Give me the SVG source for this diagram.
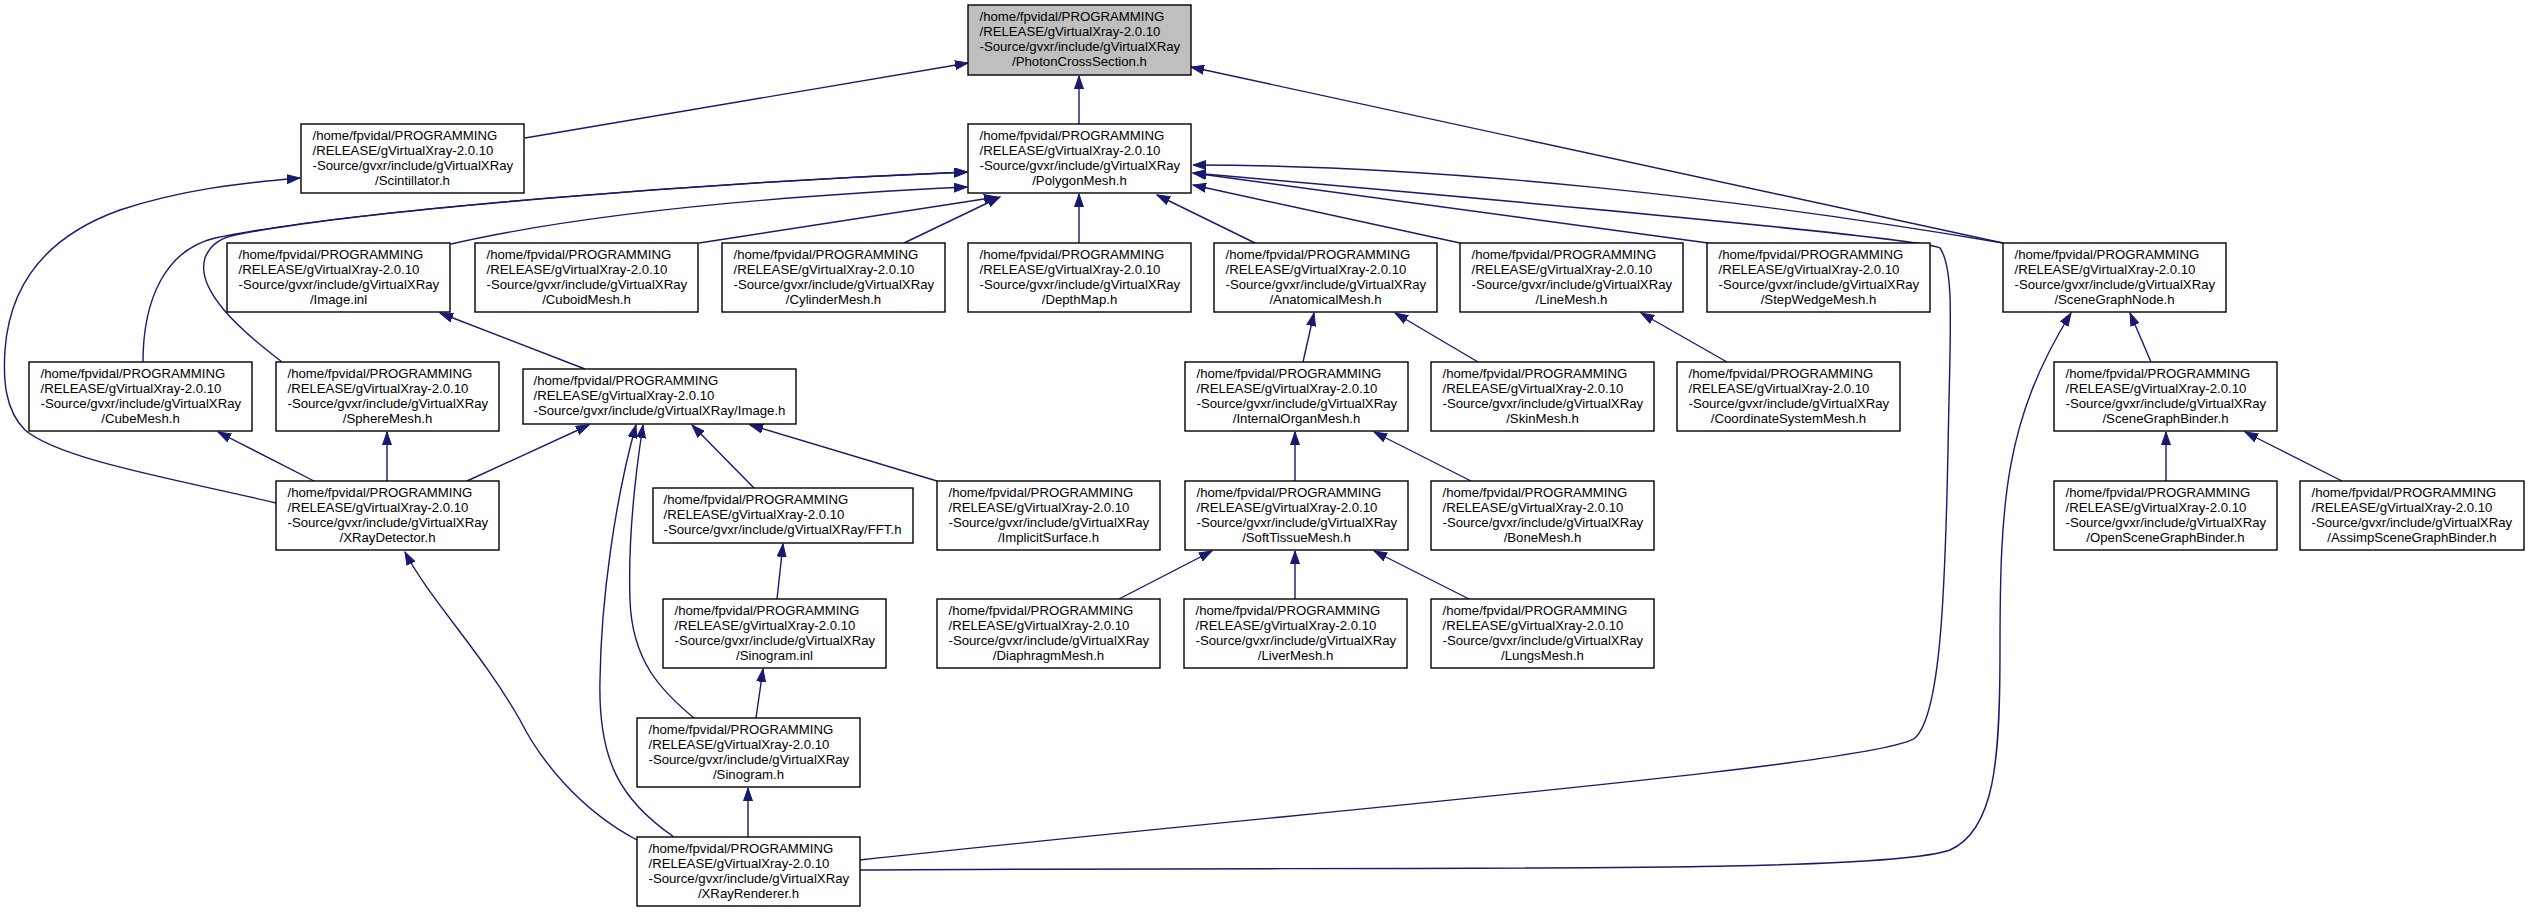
<svg xmlns="http://www.w3.org/2000/svg" width="2529" height="912" viewBox="0 0 2529 912">
<style>
.n rect{fill:#fff;stroke:#000;stroke-width:1.4}
.n.hl rect{fill:#bfbfbf}
.n text{font-family:"Liberation Sans",Arial,Helvetica,sans-serif;font-size:13.2px;fill:#000}
.n text.c{text-anchor:middle}
.e path{fill:none;stroke:#191970;stroke-width:1.4;marker-end:url(#a)}
</style>
<defs>
<marker id="a" markerWidth="14" markerHeight="10" refX="13" refY="5" orient="auto" markerUnits="userSpaceOnUse">
<path d="M0,0.5 L13,5 L0,9.5 z" fill="#191970" stroke="#191970" stroke-width="1"/>
</marker>
</defs>
<rect width="2529" height="912" fill="#fff"/>
<g class="e" id="edges">
<path d="M525,138 L968,63"/>
<path d="M1079,124 L1079,76"/>
<path d="M2003,243 L1191,67"/>
<path d="M276,503 C180,480 60,460 25,430 C5,410 3,380 5,350 C10,280 50,235 120,210 C180,190 240,183 300,178"/>
<path d="M451,244 C600,210 800,195 967,187"/>
<path d="M143,362 C143,300 165,250 215,238 C350,210 700,183 967,172"/>
<path d="M282,362 C240,330 195,290 205,258 C210,245 220,238 235,235 C360,210 700,183 967,172"/>
<path d="M699,243 L997,197"/>
<path d="M904,243 L1000,197"/>
<path d="M1079,243 L1079,194"/>
<path d="M1255,243 L1157,195"/>
<path d="M1460,243 L1193,185"/>
<path d="M1708,243 L1193,173"/>
<path d="M2003,243 C1750,200 1450,165 1193,165"/>
<path d="M860,860 C1300,812 1880,765 1915,738 C1940,715 1945,600 1948,450 C1950,330 1955,270 1940,248 C1925,238 1500,200 1193,173"/>
<path d="M585,369 L440,313"/>
<path d="M467,481 L589,425"/>
<path d="M754,488 L692,425"/>
<path d="M937,481 L750,425"/>
<path d="M694,718 C660,690 632,660 630,600 C628,540 636,470 643,425"/>
<path d="M674,837 C620,800 598,760 600,680 C601,600 615,500 636,425"/>
<path d="M777,599 L783,544"/>
<path d="M756,718 L763,669"/>
<path d="M748,837 L748,788"/>
<path d="M637,840 C580,810 540,760 520,720 C480,650 430,600 405,552"/>
<path d="M314,481 L218,432"/>
<path d="M387,481 L387,432"/>
<path d="M1303,362 L1314,313"/>
<path d="M1478,362 L1395,313"/>
<path d="M1727,362 L1641,313"/>
<path d="M2151,362 L2130,313"/>
<path d="M860,870 C1400,866 1880,875 1950,850 C1995,830 2000,760 2000,650 C2000,500 2005,420 2071,313"/>
<path d="M2166,481 L2166,432"/>
<path d="M2342,481 L2245,432"/>
<path d="M1295,481 L1295,432"/>
<path d="M1471,481 L1374,432"/>
<path d="M1119,599 L1212,551"/>
<path d="M1295,599 L1295,551"/>
<path d="M1469,599 L1374,551"/>
</g>
<g class="n hl" id="PhotonCrossSection"><rect x="968" y="5" width="223" height="70"/><text x="979.5" y="21">/home/fpvidal/PROGRAMMING</text><text x="979.5" y="36">/RELEASE/gVirtualXray-2.0.10</text><text x="979.5" y="51">-Source/gvxr/include/gVirtualXRay</text><text class="c" x="1079.5" y="66">/PhotonCrossSection.h</text></g>
<g class="n" id="Scintillator"><rect x="301" y="124" width="223" height="69"/><text x="312.5" y="139.5">/home/fpvidal/PROGRAMMING</text><text x="312.5" y="154.5">/RELEASE/gVirtualXray-2.0.10</text><text x="312.5" y="169.5">-Source/gvxr/include/gVirtualXRay</text><text class="c" x="412.5" y="184.5">/Scintillator.h</text></g>
<g class="n" id="PolygonMesh"><rect x="968" y="124" width="223" height="69"/><text x="979.5" y="139.5">/home/fpvidal/PROGRAMMING</text><text x="979.5" y="154.5">/RELEASE/gVirtualXray-2.0.10</text><text x="979.5" y="169.5">-Source/gvxr/include/gVirtualXRay</text><text class="c" x="1079.5" y="184.5">/PolygonMesh.h</text></g>
<g class="n" id="ImageInl"><rect x="227" y="243" width="223" height="69"/><text x="238.5" y="258.5">/home/fpvidal/PROGRAMMING</text><text x="238.5" y="273.5">/RELEASE/gVirtualXray-2.0.10</text><text x="238.5" y="288.5">-Source/gvxr/include/gVirtualXRay</text><text class="c" x="338.5" y="303.5">/Image.inl</text></g>
<g class="n" id="CuboidMesh"><rect x="475" y="243" width="223" height="69"/><text x="486.5" y="258.5">/home/fpvidal/PROGRAMMING</text><text x="486.5" y="273.5">/RELEASE/gVirtualXray-2.0.10</text><text x="486.5" y="288.5">-Source/gvxr/include/gVirtualXRay</text><text class="c" x="586.5" y="303.5">/CuboidMesh.h</text></g>
<g class="n" id="CylinderMesh"><rect x="722" y="243" width="223" height="69"/><text x="733.5" y="258.5">/home/fpvidal/PROGRAMMING</text><text x="733.5" y="273.5">/RELEASE/gVirtualXray-2.0.10</text><text x="733.5" y="288.5">-Source/gvxr/include/gVirtualXRay</text><text class="c" x="833.5" y="303.5">/CylinderMesh.h</text></g>
<g class="n" id="DepthMap"><rect x="968" y="243" width="223" height="69"/><text x="979.5" y="258.5">/home/fpvidal/PROGRAMMING</text><text x="979.5" y="273.5">/RELEASE/gVirtualXray-2.0.10</text><text x="979.5" y="288.5">-Source/gvxr/include/gVirtualXRay</text><text class="c" x="1079.5" y="303.5">/DepthMap.h</text></g>
<g class="n" id="AnatomicalMesh"><rect x="1214" y="243" width="223" height="69"/><text x="1225.5" y="258.5">/home/fpvidal/PROGRAMMING</text><text x="1225.5" y="273.5">/RELEASE/gVirtualXray-2.0.10</text><text x="1225.5" y="288.5">-Source/gvxr/include/gVirtualXRay</text><text class="c" x="1325.5" y="303.5">/AnatomicalMesh.h</text></g>
<g class="n" id="LineMesh"><rect x="1460" y="243" width="223" height="69"/><text x="1471.5" y="258.5">/home/fpvidal/PROGRAMMING</text><text x="1471.5" y="273.5">/RELEASE/gVirtualXray-2.0.10</text><text x="1471.5" y="288.5">-Source/gvxr/include/gVirtualXRay</text><text class="c" x="1571.5" y="303.5">/LineMesh.h</text></g>
<g class="n" id="StepWedgeMesh"><rect x="1707" y="243" width="223" height="69"/><text x="1718.5" y="258.5">/home/fpvidal/PROGRAMMING</text><text x="1718.5" y="273.5">/RELEASE/gVirtualXray-2.0.10</text><text x="1718.5" y="288.5">-Source/gvxr/include/gVirtualXRay</text><text class="c" x="1818.5" y="303.5">/StepWedgeMesh.h</text></g>
<g class="n" id="SceneGraphNode"><rect x="2003" y="243" width="223" height="69"/><text x="2014.5" y="258.5">/home/fpvidal/PROGRAMMING</text><text x="2014.5" y="273.5">/RELEASE/gVirtualXray-2.0.10</text><text x="2014.5" y="288.5">-Source/gvxr/include/gVirtualXRay</text><text class="c" x="2114.5" y="303.5">/SceneGraphNode.h</text></g>
<g class="n" id="CubeMesh"><rect x="29" y="362" width="223" height="69"/><text x="40.5" y="377.5">/home/fpvidal/PROGRAMMING</text><text x="40.5" y="392.5">/RELEASE/gVirtualXray-2.0.10</text><text x="40.5" y="407.5">-Source/gvxr/include/gVirtualXRay</text><text class="c" x="140.5" y="422.5">/CubeMesh.h</text></g>
<g class="n" id="SphereMesh"><rect x="276" y="362" width="223" height="69"/><text x="287.5" y="377.5">/home/fpvidal/PROGRAMMING</text><text x="287.5" y="392.5">/RELEASE/gVirtualXray-2.0.10</text><text x="287.5" y="407.5">-Source/gvxr/include/gVirtualXRay</text><text class="c" x="387.5" y="422.5">/SphereMesh.h</text></g>
<g class="n" id="ImageH"><rect x="523" y="369" width="273" height="55"/><text x="533.5" y="385">/home/fpvidal/PROGRAMMING</text><text x="533.5" y="400">/RELEASE/gVirtualXray-2.0.10</text><text x="533.5" y="415">-Source/gvxr/include/gVirtualXRay/Image.h</text></g>
<g class="n" id="InternalOrganMesh"><rect x="1185" y="362" width="223" height="69"/><text x="1196.5" y="377.5">/home/fpvidal/PROGRAMMING</text><text x="1196.5" y="392.5">/RELEASE/gVirtualXray-2.0.10</text><text x="1196.5" y="407.5">-Source/gvxr/include/gVirtualXRay</text><text class="c" x="1296.5" y="422.5">/InternalOrganMesh.h</text></g>
<g class="n" id="SkinMesh"><rect x="1431" y="362" width="223" height="69"/><text x="1442.5" y="377.5">/home/fpvidal/PROGRAMMING</text><text x="1442.5" y="392.5">/RELEASE/gVirtualXray-2.0.10</text><text x="1442.5" y="407.5">-Source/gvxr/include/gVirtualXRay</text><text class="c" x="1542.5" y="422.5">/SkinMesh.h</text></g>
<g class="n" id="CoordinateSystemMesh"><rect x="1677" y="362" width="223" height="69"/><text x="1688.5" y="377.5">/home/fpvidal/PROGRAMMING</text><text x="1688.5" y="392.5">/RELEASE/gVirtualXray-2.0.10</text><text x="1688.5" y="407.5">-Source/gvxr/include/gVirtualXRay</text><text class="c" x="1788.5" y="422.5">/CoordinateSystemMesh.h</text></g>
<g class="n" id="SceneGraphBinder"><rect x="2054" y="362" width="223" height="69"/><text x="2065.5" y="377.5">/home/fpvidal/PROGRAMMING</text><text x="2065.5" y="392.5">/RELEASE/gVirtualXray-2.0.10</text><text x="2065.5" y="407.5">-Source/gvxr/include/gVirtualXRay</text><text class="c" x="2165.5" y="422.5">/SceneGraphBinder.h</text></g>
<g class="n" id="XRayDetector"><rect x="276" y="481" width="223" height="69"/><text x="287.5" y="496.5">/home/fpvidal/PROGRAMMING</text><text x="287.5" y="511.5">/RELEASE/gVirtualXray-2.0.10</text><text x="287.5" y="526.5">-Source/gvxr/include/gVirtualXRay</text><text class="c" x="387.5" y="541.5">/XRayDetector.h</text></g>
<g class="n" id="FFT"><rect x="653" y="488" width="260" height="55"/><text x="663.5" y="504">/home/fpvidal/PROGRAMMING</text><text x="663.5" y="519">/RELEASE/gVirtualXray-2.0.10</text><text x="663.5" y="534">-Source/gvxr/include/gVirtualXRay/FFT.h</text></g>
<g class="n" id="ImplicitSurface"><rect x="937" y="481" width="223" height="69"/><text x="948.5" y="496.5">/home/fpvidal/PROGRAMMING</text><text x="948.5" y="511.5">/RELEASE/gVirtualXray-2.0.10</text><text x="948.5" y="526.5">-Source/gvxr/include/gVirtualXRay</text><text class="c" x="1048.5" y="541.5">/ImplicitSurface.h</text></g>
<g class="n" id="SoftTissueMesh"><rect x="1185" y="481" width="223" height="69"/><text x="1196.5" y="496.5">/home/fpvidal/PROGRAMMING</text><text x="1196.5" y="511.5">/RELEASE/gVirtualXray-2.0.10</text><text x="1196.5" y="526.5">-Source/gvxr/include/gVirtualXRay</text><text class="c" x="1296.5" y="541.5">/SoftTissueMesh.h</text></g>
<g class="n" id="BoneMesh"><rect x="1431" y="481" width="223" height="69"/><text x="1442.5" y="496.5">/home/fpvidal/PROGRAMMING</text><text x="1442.5" y="511.5">/RELEASE/gVirtualXray-2.0.10</text><text x="1442.5" y="526.5">-Source/gvxr/include/gVirtualXRay</text><text class="c" x="1542.5" y="541.5">/BoneMesh.h</text></g>
<g class="n" id="OpenSceneGraphBinder"><rect x="2054" y="481" width="223" height="69"/><text x="2065.5" y="496.5">/home/fpvidal/PROGRAMMING</text><text x="2065.5" y="511.5">/RELEASE/gVirtualXray-2.0.10</text><text x="2065.5" y="526.5">-Source/gvxr/include/gVirtualXRay</text><text class="c" x="2165.5" y="541.5">/OpenSceneGraphBinder.h</text></g>
<g class="n" id="AssimpSceneGraphBinder"><rect x="2300" y="481" width="224" height="69"/><text x="2311.5" y="496.5">/home/fpvidal/PROGRAMMING</text><text x="2311.5" y="511.5">/RELEASE/gVirtualXray-2.0.10</text><text x="2311.5" y="526.5">-Source/gvxr/include/gVirtualXRay</text><text class="c" x="2412" y="541.5">/AssimpSceneGraphBinder.h</text></g>
<g class="n" id="SinogramInl"><rect x="663" y="599" width="223" height="69"/><text x="674.5" y="614.5">/home/fpvidal/PROGRAMMING</text><text x="674.5" y="629.5">/RELEASE/gVirtualXray-2.0.10</text><text x="674.5" y="644.5">-Source/gvxr/include/gVirtualXRay</text><text class="c" x="774.5" y="659.5">/Sinogram.inl</text></g>
<g class="n" id="DiaphragmMesh"><rect x="937" y="599" width="223" height="69"/><text x="948.5" y="614.5">/home/fpvidal/PROGRAMMING</text><text x="948.5" y="629.5">/RELEASE/gVirtualXray-2.0.10</text><text x="948.5" y="644.5">-Source/gvxr/include/gVirtualXRay</text><text class="c" x="1048.5" y="659.5">/DiaphragmMesh.h</text></g>
<g class="n" id="LiverMesh"><rect x="1184" y="599" width="223" height="69"/><text x="1195.5" y="614.5">/home/fpvidal/PROGRAMMING</text><text x="1195.5" y="629.5">/RELEASE/gVirtualXray-2.0.10</text><text x="1195.5" y="644.5">-Source/gvxr/include/gVirtualXRay</text><text class="c" x="1295.5" y="659.5">/LiverMesh.h</text></g>
<g class="n" id="LungsMesh"><rect x="1431" y="599" width="223" height="69"/><text x="1442.5" y="614.5">/home/fpvidal/PROGRAMMING</text><text x="1442.5" y="629.5">/RELEASE/gVirtualXray-2.0.10</text><text x="1442.5" y="644.5">-Source/gvxr/include/gVirtualXRay</text><text class="c" x="1542.5" y="659.5">/LungsMesh.h</text></g>
<g class="n" id="SinogramH"><rect x="637" y="718" width="223" height="69"/><text x="648.5" y="733.5">/home/fpvidal/PROGRAMMING</text><text x="648.5" y="748.5">/RELEASE/gVirtualXray-2.0.10</text><text x="648.5" y="763.5">-Source/gvxr/include/gVirtualXRay</text><text class="c" x="748.5" y="778.5">/Sinogram.h</text></g>
<g class="n" id="XRayRenderer"><rect x="637" y="837" width="223" height="69"/><text x="648.5" y="852.5">/home/fpvidal/PROGRAMMING</text><text x="648.5" y="867.5">/RELEASE/gVirtualXray-2.0.10</text><text x="648.5" y="882.5">-Source/gvxr/include/gVirtualXRay</text><text class="c" x="748.5" y="897.5">/XRayRenderer.h</text></g>
</svg>
